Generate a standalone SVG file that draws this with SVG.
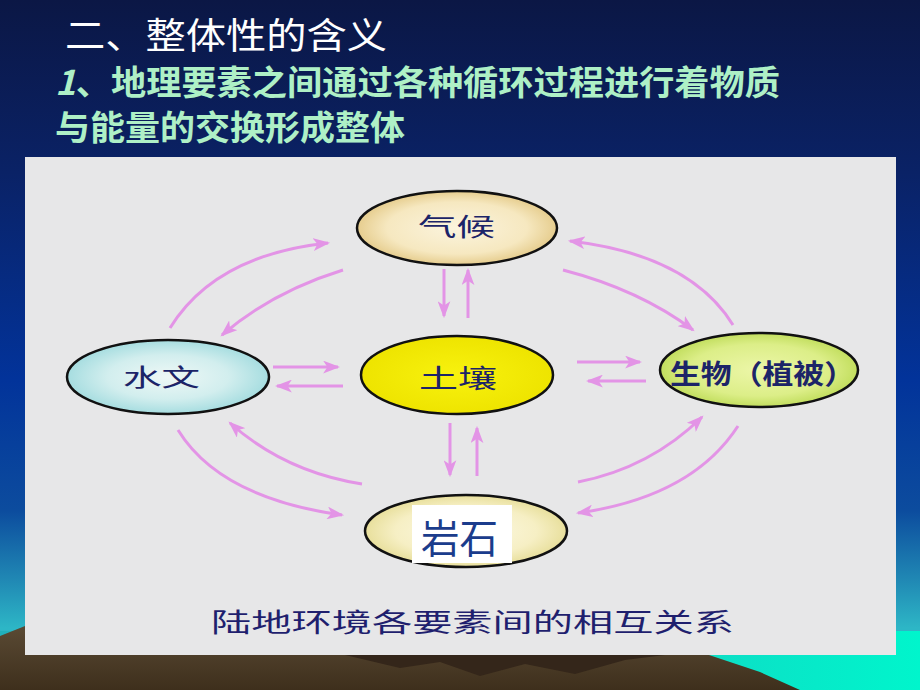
<svg xmlns="http://www.w3.org/2000/svg" width="920" height="690" viewBox="0 0 920 690">
<defs>
<linearGradient id="bg" x1="0" y1="0" x2="0" y2="1">
<stop offset="0" stop-color="#0b1745"/>
<stop offset="0.25" stop-color="#0a2266"/>
<stop offset="0.55" stop-color="#02339a"/>
<stop offset="0.74" stop-color="#0c4c9e"/>
<stop offset="0.84" stop-color="#2088b4"/>
<stop offset="0.91" stop-color="#2db6c6"/>
<stop offset="1" stop-color="#2db6c6"/>
</linearGradient>
<linearGradient id="sea" x1="0" y1="0" x2="1" y2="0">
<stop offset="0" stop-color="#20b0bc"/>
<stop offset="0.7" stop-color="#10d8c4"/>
<stop offset="1" stop-color="#00f5cc"/>
</linearGradient>
<linearGradient id="ground" x1="0" y1="0" x2="0" y2="1">
<stop offset="0" stop-color="#5a4a34"/>
<stop offset="1" stop-color="#3e2f1c"/>
</linearGradient>
<radialGradient id="gClimate" cx="0.5" cy="0.5" r="0.5">
<stop offset="0" stop-color="#fbf4de"/>
<stop offset="0.7" stop-color="#f6e8c0"/>
<stop offset="1" stop-color="#e6cd8e"/>
</radialGradient>
<radialGradient id="gSoil" cx="0.5" cy="0.5" r="0.5">
<stop offset="0" stop-color="#f8f20e"/>
<stop offset="1" stop-color="#eee400"/>
</radialGradient>
<radialGradient id="gWater" cx="0.5" cy="0.5" r="0.5">
<stop offset="0" stop-color="#eef8f6"/>
<stop offset="0.6" stop-color="#d2eeee"/>
<stop offset="1" stop-color="#a6dde0"/>
</radialGradient>
<radialGradient id="gBio" cx="0.5" cy="0.5" r="0.5">
<stop offset="0" stop-color="#ecf6a8"/>
<stop offset="0.7" stop-color="#dcee88"/>
<stop offset="1" stop-color="#c2de5e"/>
</radialGradient>
<radialGradient id="gRock" cx="0.5" cy="0.5" r="0.5">
<stop offset="0" stop-color="#fdfae6"/>
<stop offset="0.7" stop-color="#f6efc4"/>
<stop offset="1" stop-color="#e8df9c"/>
</radialGradient>
<marker id="ah" viewBox="0 0 16 12" refX="14" refY="6" markerWidth="17" markerHeight="13" markerUnits="userSpaceOnUse" orient="auto">
<path d="M0,0 L16,6 L0,12 L4,6 Z" fill="#e394e6"/>
</marker>
<style>
.node{stroke:#111;stroke-width:2.5}
.lbl{font-family:"Noto Sans CJK SC","Noto Sans",sans-serif;fill:#1c2468}
.arr{fill:none;stroke:#e394e6;stroke-width:3;marker-end:url(#ah)}
</style>
</defs>

<rect width="920" height="690" fill="url(#bg)"/>
<rect x="0" y="631" width="920" height="59" fill="url(#sea)"/>
<path d="M0,636 L25,626 L100,640 L300,650 L700,652 L760,672 L800,690 L0,690 Z" fill="url(#ground)"/>
<path d="M345,655 L400,668 L440,662 L480,676 L525,664 L575,674 L625,660 L665,655 Z" fill="#34261a"/>

<text x="65" y="49" font-family="'Noto Sans CJK SC','Noto Sans',sans-serif" font-size="36" fill="#ffffff" textLength="322" lengthAdjust="spacingAndGlyphs">二、整体性的含义</text>
<text x="55" y="95" font-family="'Noto Sans CJK SC','Noto Sans',sans-serif" font-size="34" font-weight="bold" fill="#aef0c6" textLength="725" lengthAdjust="spacingAndGlyphs"><tspan font-style="italic">1</tspan>、地理要素之间通过各种循环过程进行着物质</text>
<text x="55" y="140" font-family="'Noto Sans CJK SC','Noto Sans',sans-serif" font-size="34" font-weight="bold" fill="#aef0c6" textLength="350" lengthAdjust="spacingAndGlyphs">与能量的交换形成整体</text>

<rect x="25" y="157" width="871" height="498" fill="#e7e7e8"/>

<g id="connectors">
<path class="arr" d="M444,269 L444,316"/>
<path class="arr" d="M468,318 L468,270"/>
<path class="arr" d="M450,423 L450,475"/>
<path class="arr" d="M477,476 L477,428"/>
<path class="arr" d="M273,367 L338,367"/>
<path class="arr" d="M343,386 L277,386"/>
<path class="arr" d="M577,362 L640,362"/>
<path class="arr" d="M646,381 L588,381"/>
<path class="arr" d="M170,328 Q215,255 328,243"/>
<path class="arr" d="M343,270 Q272,292 222,335"/>
<path class="arr" d="M733,325 Q690,255 570,241"/>
<path class="arr" d="M563,270 Q640,290 693,330"/>
<path class="arr" d="M178,430 Q220,498 342,515"/>
<path class="arr" d="M362,484 Q285,472 230,423"/>
<path class="arr" d="M578,482 Q650,468 702,417"/>
<path class="arr" d="M738,426 Q692,497 578,513"/>
</g>

<g id="climate">
<ellipse class="node" cx="457" cy="228" rx="100" ry="37" fill="url(#gClimate)"/>
<text class="lbl" x="418" y="236" font-size="25" textLength="77" lengthAdjust="spacingAndGlyphs">气候</text>
</g>
<g id="soil">
<ellipse class="node" cx="457" cy="375" rx="96" ry="39" fill="url(#gSoil)"/>
<text class="lbl" x="419" y="388" font-size="26" textLength="78" lengthAdjust="spacingAndGlyphs">土壤</text>
</g>
<g id="hydrology">
<ellipse class="node" cx="168" cy="377" rx="101" ry="37" fill="url(#gWater)"/>
<text class="lbl" x="123" y="386" font-size="24" textLength="77" lengthAdjust="spacingAndGlyphs">水文</text>
</g>
<g id="biology">
<ellipse class="node" cx="759" cy="370" rx="99" ry="37" fill="url(#gBio)"/>
<text class="lbl" x="670" y="384" font-size="27" font-weight="bold" textLength="185" lengthAdjust="spacingAndGlyphs">生物（植被）</text>
</g>
<g id="rock">
<ellipse class="node" cx="466" cy="531" rx="101" ry="36" fill="url(#gRock)"/>
<rect x="412" y="505" width="100" height="58" fill="#ffffff"/>
<text x="421" y="553" font-family="'Noto Sans CJK SC','Noto Sans',sans-serif" font-size="40" fill="#1b3c8c" textLength="77" lengthAdjust="spacingAndGlyphs">岩石</text>
</g>

<text x="211" y="632" font-family="'Noto Sans CJK SC','Noto Sans',sans-serif" font-size="26" fill="#1f1f6e" textLength="523" lengthAdjust="spacingAndGlyphs">陆地环境各要素间的相互关系</text>
</svg>
